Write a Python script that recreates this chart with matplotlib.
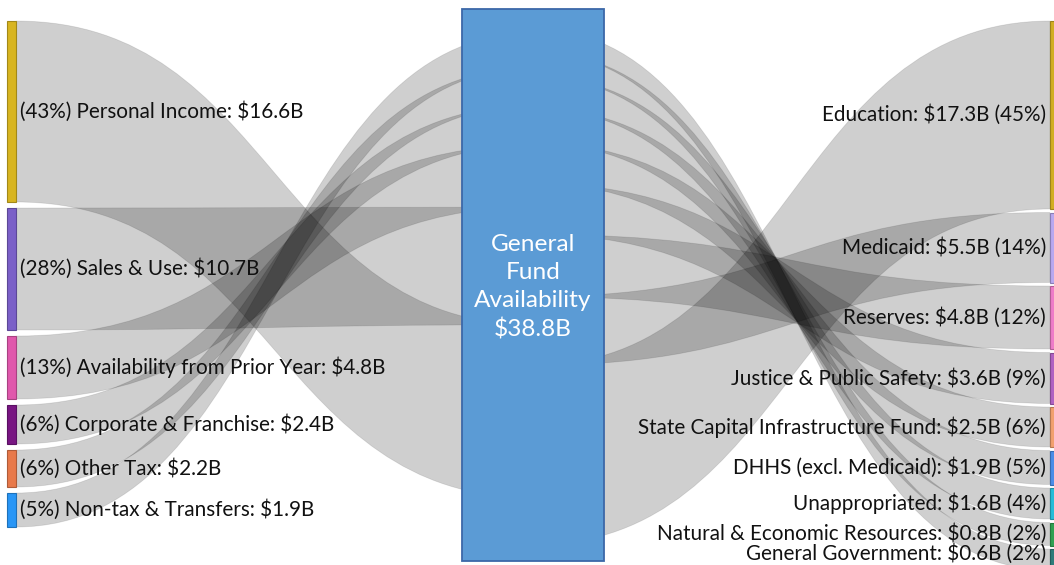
import matplotlib.pyplot as plt
from matplotlib.path import Path
from matplotlib.patches import PathPatch, Rectangle

# revenue sources (left side)
src_names = ['Personal Income', 'Sales & Use', 'Availability from Prior Year',
             'Corporate & Franchise', 'Other Tax', 'Non-tax & Transfers']
src_values = [16.6, 10.7, 4.8, 2.4, 2.2, 1.9]
src_pct = [43, 28, 13, 6, 6, 5]
src_colors = ['#D8B520', '#7B60C8', '#E058AC', '#781682', '#E8794A', '#2896F6']

# uses (right side)
dst_names = ['Education', 'Medicaid', 'Reserves', 'Justice & Public Safety',
             'State Capital Infrastructure Fund', 'DHHS (excl. Medicaid)',
             'Unappropriated', 'Natural & Economic Resources', 'General Government']
dst_values = [17.3, 5.5, 4.8, 3.6, 2.5, 1.9, 1.6, 0.8, 0.6]
dst_pct = [45, 14, 12, 9, 6, 5, 4, 2, 2]
dst_colors = ['#D2AE22', '#B8A8F0', '#EE7CC8', '#B062C2', '#F2A06E',
              '#4B8DE8', '#25BDD8', '#2FA052', '#2E7C7A']

center_label = 'General\nFund\nAvailability\n$38.8B'

FONT = 'Lato'
W, H = 1054, 565


def node_h(v):
    return 10 * v + 15


def band_w(v):
    return 9.4 * v + 17


def link(ax, x0, a0, b0, x1, a1, b1):
    xm = (x0 + x1) / 2
    verts = [(x0, a0), (xm, a0), (xm, a1), (x1, a1),
             (x1, b1), (xm, b1), (xm, b0), (x0, b0), (x0, a0)]
    codes = [Path.MOVETO, Path.CURVE4, Path.CURVE4, Path.CURVE4,
             Path.LINETO, Path.CURVE4, Path.CURVE4, Path.CURVE4, Path.CLOSEPOLY]
    ax.add_patch(PathPatch(Path(verts, codes), fc=(0, 0, 0, 0.19),
                           ec=(0, 0, 0, 0.10), lw=0.6, zorder=1))


def darker(c, f=0.75):
    r, g, b = plt.matplotlib.colors.to_rgb(c)
    return (r * f, g * f, b * f)


def main():
    fig = plt.figure(figsize=(W / 100, H / 100), dpi=100)
    ax = fig.add_axes([0, 0, 1, 1])
    ax.set_xlim(0, W)
    ax.set_ylim(H, 0)
    ax.axis('off')

    cx0, cx1, cy0, cy1 = 462, 604, 9, 561
    cmid = (cx0 + cx1) / 2
    lx0, lx1 = 7, 16
    rx0, rx1 = 1050, 1059

    # left nodes
    y = 21
    src_pos = []
    for v in src_values:
        h = node_h(v)
        src_pos.append((y, y + h))
        y += h + 6
    # bands into the centre, smallest source on top
    band = {}
    y = 33
    for i in reversed(range(len(src_values))):
        w = band_w(src_values[i])
        band[i] = (y, y + w)
        y += w
    for i, (name, v, p, c) in enumerate(zip(src_names, src_values, src_pct, src_colors)):
        t, b = src_pos[i]
        link(ax, lx1, t, b, cmid, band[i][0], band[i][1])
        ax.add_patch(Rectangle((lx0, t), lx1 - lx0, b - t, fc=c, ec=darker(c),
                               lw=0.8, zorder=3))
        ax.text(20, (t + b) / 2, f'({p}%) {name}: ${v}B', ha='left', va='center',
                fontsize=14.9, family=FONT, color='#111111', zorder=6)

    # right nodes
    y = 21
    dst_pos = []
    for v in dst_values:
        h = node_h(v)
        dst_pos.append((y, y + h))
        y += h + 3.5
    band = {}
    y = 29
    for i in reversed(range(len(dst_values))):
        w = band_w(dst_values[i])
        band[i] = (y, y + w)
        y += w
    for i, (name, v, p, c) in enumerate(zip(dst_names, dst_values, dst_pct, dst_colors)):
        t, b = dst_pos[i]
        link(ax, cmid, band[i][0], band[i][1], rx0, t, b)
        ax.add_patch(Rectangle((rx0, t), rx1 - rx0, b - t, fc=c, ec=darker(c),
                               lw=0.8, zorder=3))
        ty = min((t + b) / 2, H - 11)
        ax.text(1046, ty, f'{name}: ${v}B ({p}%)', ha='right', va='center',
                fontsize=14.9, family=FONT, color='#111111', zorder=6)

    # centre node
    ax.add_patch(Rectangle((cx0, cy0), cx1 - cx0, cy1 - cy0, fc='#5B9BD5',
                           ec='#3C68A8', lw=1.3, zorder=5))
    ax.text(cmid, 287, center_label, ha='center', va='center', color='white',
            fontsize=17.6, family=FONT, linespacing=1.42, zorder=6)

    fig.savefig('out.png', dpi=100)


main()
